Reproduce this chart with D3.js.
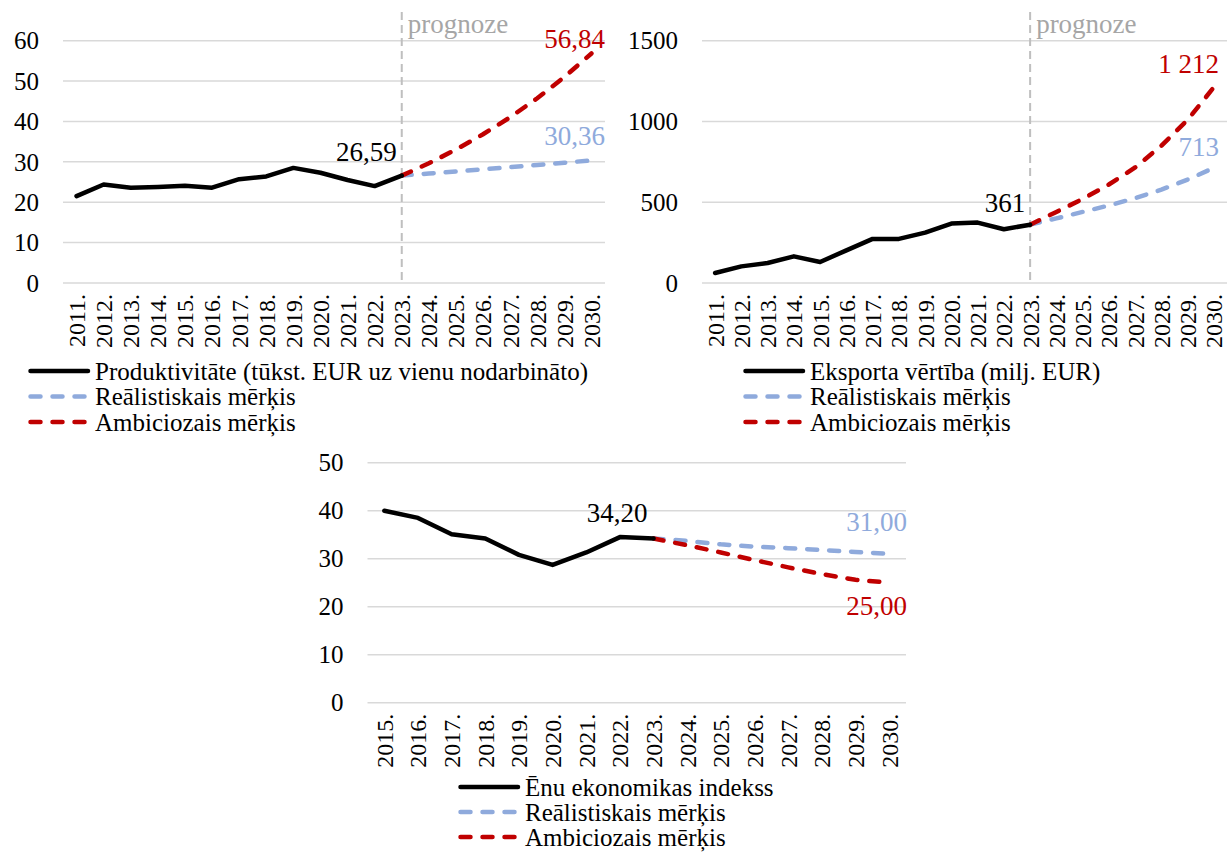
<!DOCTYPE html>
<html>
<head>
<meta charset="utf-8">
<script src="https://cdn.jsdelivr.net/npm/d3@7"></script>
<style>
    body { margin: 0; background: #fff; }
    svg text { font-family: 'Liberation Serif', 'Times New Roman', serif; }
</style>
</head>
<body>
<svg id="chart" width="1229" height="852"></svg>
<script>
// Categories
const yearsLong = ['2011.', '2012.', '2013.', '2014.', '2015.', '2016.', '2017.', '2018.', '2019.', '2020.',
    '2021.', '2022.', '2023.', '2024.', '2025.', '2026.', '2027.', '2028.', '2029.', '2030.'];
const yearsShort = ['2015.', '2016.', '2017.', '2018.', '2019.', '2020.', '2021.', '2022.', '2023.',
    '2024.', '2025.', '2026.', '2027.', '2028.', '2029.', '2030.'];

// Produktivitāte (2011-2023) + targets (2023-2030)
const prodFact = [21.5, 24.4, 23.6, 23.8, 24.1, 23.6, 25.7, 26.4, 28.5, 27.3, 25.5, 24.0, 26.59];
const prodReal = [26.59, 27.10, 27.61, 28.14, 28.68, 29.22, 29.78, 30.36];
const prodAmb = [26.59, 29.64, 33.04, 36.83, 41.05, 45.75, 51.00, 56.84];

// Eksporta vērtība (2011-2023) + targets
const expFact = [62, 103, 124, 165, 130, 202, 273, 273, 312, 368, 374, 333, 361];
const expReal = [361, 400, 440, 480, 525, 578, 640, 713];
const expAmb = [361, 440, 520, 610, 715, 850, 1010, 1212];

// Ēnu ekonomikas indekss (2015-2023) + targets
const shadowFact = [40.0, 38.5, 35.1, 34.2, 30.8, 28.7, 31.3, 34.5, 34.2];
const shadowReal = [34.2, 33.7, 33.0, 32.5, 32.2, 31.8, 31.4, 31.0];
const shadowAmb = [34.2, 32.8, 31.3, 29.7, 28.2, 26.8, 25.6, 25.0];

const legendReal = 'Reālistiskais mērķis';
const legendAmb = 'Ambiciozais mērķis';

const BLACK = '#000000';
const BLUE = '#8faadc';
const RED = '#c00000';
const GRID = '#d9d9d9';

const lv = d3.formatLocale({ decimal: ',', thousands: '\u00a0', grouping: [3], currency: ['', ''] });

const svg = d3.select('#chart');

function drawPanel(cfg) {
    const g = svg.append('g');
    const x = d3.scalePoint().domain(cfg.cats).range([cfg.x0, cfg.x1]).padding(0.5);
    const y = d3.scaleLinear().domain([0, cfg.yMax]).range([cfg.yBottom, cfg.yTop]);
    const ticks = d3.range(0, cfg.yMax + 1, cfg.yStep);

    // gridlines
    g.append('g').selectAll('line').data(ticks).enter().append('line')
        .attr('x1', cfg.x0).attr('x2', cfg.x1)
        .attr('y1', d => y(d)).attr('y2', d => y(d))
        .attr('stroke', GRID).attr('stroke-width', 1.5);

    // y tick labels
    g.append('g').selectAll('text').data(ticks).enter().append('text')
        .attr('x', cfg.x0 - 24).attr('y', d => y(d)).attr('dy', '0.35em')
        .attr('text-anchor', 'end').attr('font-size', 25).attr('fill', '#000')
        .text(d => d);

    // x tick labels (rotated)
    g.append('g').selectAll('text').data(cfg.cats).enter().append('text')
        .attr('transform', d => `translate(${x(d)},${cfg.yBottom + 11}) rotate(-90)`)
        .attr('dy', '0.35em').attr('text-anchor', 'end')
        .attr('font-size', 24).attr('fill', '#000')
        .text(d => d);

    // forecast marker
    if (cfg.prognoze) {
        const px = x(cfg.splitCat);
        g.append('line')
            .attr('x1', px).attr('x2', px).attr('y1', 12).attr('y2', cfg.yBottom)
            .attr('stroke', '#bfbfbf').attr('stroke-width', 2).attr('stroke-dasharray', '8,5');
        g.append('text')
            .attr('x', px + 6).attr('y', 33)
            .attr('font-size', 27).attr('fill', '#a6a6a6')
            .text('prognoze');
    }

    const splitIdx = cfg.cats.indexOf(cfg.splitCat);
    const factCats = cfg.cats.slice(0, splitIdx + 1);
    const futCats = cfg.cats.slice(splitIdx);

    const line = cats => d3.line().x((d, i) => x(cats[i])).y(d => y(d));

    g.append('path').datum(cfg.real)
        .attr('d', line(futCats)).attr('fill', 'none')
        .attr('stroke', BLUE).attr('stroke-width', 4.5)
        .attr('stroke-linecap', 'round').attr('stroke-dasharray', '10,12');
    g.append('path').datum(cfg.amb)
        .attr('d', line(futCats)).attr('fill', 'none')
        .attr('stroke', RED).attr('stroke-width', 4.5)
        .attr('stroke-linecap', 'round').attr('stroke-dasharray', '10,12');
    g.append('path').datum(cfg.fact)
        .attr('d', line(factCats)).attr('fill', 'none')
        .attr('stroke', BLACK).attr('stroke-width', 4.5)
        .attr('stroke-linejoin', 'round').attr('stroke-linecap', 'round');

    // data labels
    const fmt = lv.format(cfg.fmt);
    const lastCat = cfg.cats[cfg.cats.length - 1];
    const labels = [
        { v: cfg.fact[cfg.fact.length - 1], cat: cfg.splitCat, color: BLACK, right: false, dx: cfg.factDx, dy: cfg.factDy },
        { v: cfg.real[cfg.real.length - 1], cat: lastCat, color: BLUE, right: true, dy: cfg.realDy },
        { v: cfg.amb[cfg.amb.length - 1], cat: lastCat, color: RED, right: true, dy: cfg.ambDy }
    ];
    g.append('g').selectAll('text').data(labels).enter().append('text')
        .attr('x', d => d.right ? cfg.x1 + cfg.labelRightDx : x(d.cat) + d.dx)
        .attr('y', d => y(d.v) + d.dy)
        .attr('text-anchor', 'end').attr('font-size', 27)
        .attr('fill', d => d.color)
        .text(d => fmt(d.v));

    // legend
    const items = [
        { label: cfg.legendMain, color: BLACK, dash: null },
        { label: legendReal, color: BLUE, dash: '10,12' },
        { label: legendAmb, color: RED, dash: '10,12' }
    ];
    const lg = g.append('g').attr('transform', `translate(${cfg.legX},${cfg.legY})`);
    const row = lg.selectAll('g').data(items).enter().append('g')
        .attr('transform', (d, i) => `translate(0,${i * cfg.legStep})`);
    row.append('line')
        .attr('x1', 2.5).attr('x2', 60).attr('y1', 0).attr('y2', 0)
        .attr('stroke', d => d.color).attr('stroke-width', 4.5)
        .attr('stroke-linecap', 'round')
        .attr('stroke-dasharray', d => d.dash);
    row.append('text')
        .attr('x', 67).attr('y', 0).attr('dy', '0.35em')
        .attr('font-size', 25).attr('fill', '#000')
        .text(d => d.label);
}

drawPanel({
    cats: yearsLong, splitCat: '2023.',
    fact: prodFact, real: prodReal, amb: prodAmb,
    x0: 63, x1: 605, yTop: 40.7, yBottom: 283, yMax: 60, yStep: 10,
    prognoze: true, fmt: ',.2f',
    factDx: -5, factDy: -15, realDy: -15, ambDy: -5, labelRightDx: 0,
    legendMain: 'Produktivitāte (tūkst. EUR uz vienu nodarbināto)',
    legX: 28, legY: 371, legStep: 25.5
});

drawPanel({
    cats: yearsLong, splitCat: '2023.',
    fact: expFact, real: expReal, amb: expAmb,
    x0: 702, x1: 1227, yTop: 40.7, yBottom: 283, yMax: 1500, yStep: 500,
    prognoze: true, fmt: ',.0f',
    factDx: -5, factDy: -13, realDy: -12, ambDy: -14, labelRightDx: -8,
    legendMain: 'Eksporta vērtība (milj. EUR)',
    legX: 743, legY: 371, legStep: 25.5
});

drawPanel({
    cats: yearsShort, splitCat: '2023.',
    fact: shadowFact, real: shadowReal, amb: shadowAmb,
    x0: 367.5, x1: 906, yTop: 462.7, yBottom: 702.7, yMax: 50, yStep: 10,
    prognoze: false, fmt: '.2f',
    factDx: -6, factDy: -17, realDy: -23, ambDy: 32, labelRightDx: 1,
    legendMain: 'Ēnu ekonomikas indekss',
    legX: 458, legY: 787, legStep: 25
});
</script>
</body>
</html>
